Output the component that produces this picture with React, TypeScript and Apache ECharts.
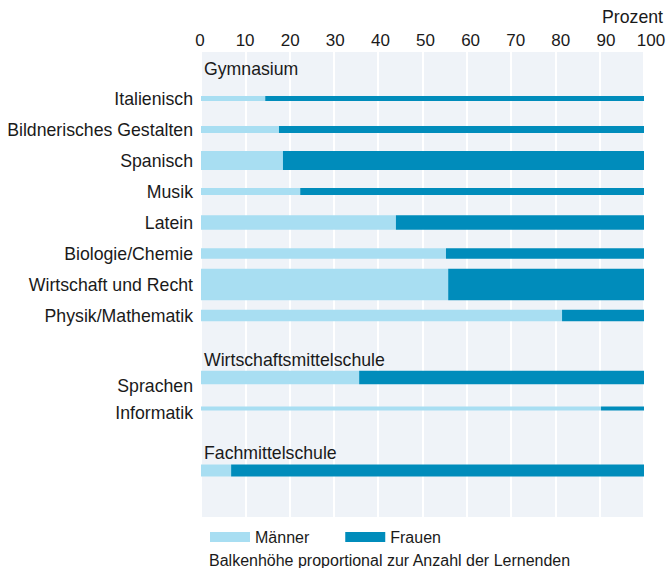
import React, { useEffect, useRef } from "react";
import * as echarts from "echarts";

const FONT = '"Liberation Sans", Arial, Helvetica, sans-serif';
const TEXT = "#1a1a1a";
const C_M = "#a8def2";
const C_F = "#008cbb";
const FS = 17.7;

// Rows of the y axis (top to bottom)
const categories = [
  "Gymnasium",
  "Italienisch",
  "Bildnerisches Gestalten",
  "Spanisch",
  "Musik",
  "Latein",
  "Biologie/Chemie",
  "Wirtschaft und Recht",
  "Physik/Mathematik",
  "Wirtschaftsmittelschule",
  "Sprachen",
  "Informatik",
  "Fachmittelschule",
  "FMS",
  "leer",
];

// Group headers (drawn inside the plot)
const headers = ["Gymnasium", "Wirtschaftsmittelschule", "Fachmittelschule"];

// Bars
const barRows = [
  "Italienisch",
  "Bildnerisches Gestalten",
  "Spanisch",
  "Musik",
  "Latein",
  "Biologie/Chemie",
  "Wirtschaft und Recht",
  "Physik/Mathematik",
  "Sprachen",
  "Informatik",
  "FMS",
];
const maennerProzent = [14.5, 17.6, 18.5, 22.4, 44.0, 55.3, 55.8, 81.5, 35.7, 90.3, 6.8];
const lernende = [480, 700, 1900, 700, 1430, 1070, 3150, 1170, 1370, 400, 1200];

const xTicks = [0, 10, 20, 30, 40, 50, 60, 70, 80, 90, 100];

export default function App() {
  const ref = useRef<HTMLDivElement>(null);
  useEffect(() => {
    if (!ref.current) return;
    const chart = echarts.init(ref.current, undefined, { renderer: "svg" });
    const scaleMax = 3100;
    const hidden = new Set([...headers, "FMS", "leer"]);
    const headerDy: Record<string, number> = {
      Gymnasium: 1.5,
      Wirtschaftsmittelschule: 13.5,
      Fachmittelschule: 13.5,
    };
    const labelShift: Record<string, string> = { Sprachen: "a", Informatik: "b" };

    const maennerData = barRows.map((r, i) => [0, maennerProzent[i], categories.indexOf(r), lernende[i]]);
    const frauenData = barRows.map((r, i) => [maennerProzent[i], 100, categories.indexOf(r), lernende[i]]);

    const renderBar = (color: string) => (params: any, api: any) => {
      const s = api.value(0);
      const e = api.value(1);
      const y = api.value(2);
      const n = api.value(3);
      const p0 = api.coord([s, y]);
      const p1 = api.coord([e, y]);
      const band = api.size([0, 1])[1];
      const h = (band * n) / scaleMax;
      return {
        type: "rect",
        shape: { x: p0[0], y: p0[1] - h / 2, width: p1[0] - p0[0], height: h },
        style: { fill: color },
      };
    };

    chart.setOption({
      animation: false,
      textStyle: { fontFamily: FONT },
      grid: [
        {
          left: 201,
          right: 25,
          top: 52,
          bottom: 51,
          show: true,
          backgroundColor: "#eff3f8",
          borderWidth: 0,
        },
        { left: 200, right: 18, top: 52, bottom: 51, show: false },
      ],
      xAxis: [
        {
          type: "value",
          gridIndex: 0,
          position: "top",
          min: 0,
          max: 100,
          interval: 10,
          axisLine: { show: false },
          axisTick: { show: false },
          axisLabel: { show: false },
          splitLine: { show: true, lineStyle: { color: "#ffffff", width: 2 } },
        },
        {
          type: "value",
          gridIndex: 1,
          position: "top",
          min: 0,
          max: 100,
          interval: 10,
          axisLine: { show: false },
          axisTick: { show: false },
          splitLine: { show: false },
          axisLabel: {
            fontSize: 17,
            color: TEXT,
            fontFamily: FONT,
            margin: 3,
            formatter: (v: number) => (xTicks.includes(v) ? String(v) : ""),
          },
        },
      ],
      yAxis: [
        {
          type: "category",
          gridIndex: 0,
          inverse: true,
          data: categories,
          axisLine: { show: false },
          axisTick: { show: false },
          splitLine: { show: false },
          axisLabel: {
            fontSize: FS,
            color: TEXT,
            fontFamily: FONT,
            margin: 8,
            interval: 0,
            formatter: (v: string) =>
              hidden.has(v) ? "" : labelShift[v] ? `{${labelShift[v]}|${v}}` : v,
            rich: {
              a: { fontSize: FS, color: TEXT, fontFamily: FONT, padding: [16, 0, 0, 0] },
              b: { fontSize: FS, color: TEXT, fontFamily: FONT, padding: [9, 0, 0, 0] },
            },
          },
        },
        { type: "value", gridIndex: 1, show: false },
      ],
      legend: {
        left: 205,
        top: 524,
        itemWidth: 40,
        itemHeight: 10,
        itemGap: 36,
        icon: "rect",
        textStyle: { fontSize: 16, color: TEXT, fontFamily: FONT },
        data: ["Männer", "Frauen"],
      },
      graphic: [
        {
          type: "text",
          right: 6,
          top: 8,
          style: { text: "Prozent", fontSize: FS, fill: TEXT, fontFamily: FONT },
        },
        {
          type: "text",
          left: 209,
          top: 552,
          style: {
            text: "Balkenhöhe proportional zur Anzahl der Lernenden",
            fontSize: 16,
            fill: TEXT,
            fontFamily: FONT,
          },
        },
      ],
      series: [
        {
          name: "Männer",
          type: "custom",
          xAxisIndex: 0,
          yAxisIndex: 0,
          itemStyle: { color: C_M },
          renderItem: renderBar(C_M),
          encode: { x: [0, 1], y: 2 },
          data: maennerData,
        },
        {
          name: "Frauen",
          type: "custom",
          xAxisIndex: 0,
          yAxisIndex: 0,
          itemStyle: { color: C_F },
          renderItem: renderBar(C_F),
          encode: { x: [0, 1], y: 2 },
          data: frauenData,
        },
        {
          name: "Schulen",
          type: "custom",
          xAxisIndex: 0,
          yAxisIndex: 0,
          silent: true,
          renderItem: (params: any, api: any) => {
            const name = headers[params.dataIndex];
            const p = api.coord([0, api.value(0)]);
            return {
              type: "text",
              x: p[0] + 3,
              y: p[1] + headerDy[name],
              style: {
                text: name,
                fontSize: FS,
                fill: TEXT,
                fontFamily: FONT,
                verticalAlign: "middle",
                align: "left",
              },
            };
          },
          encode: { y: 0 },
          data: headers.map((h) => [categories.indexOf(h)]),
        },
      ],
    });
    return () => chart.dispose();
  }, []);
  return <div ref={ref} style={{ width: 669, height: 568, position: "absolute", left: 0, top: 0 }} />;
}
